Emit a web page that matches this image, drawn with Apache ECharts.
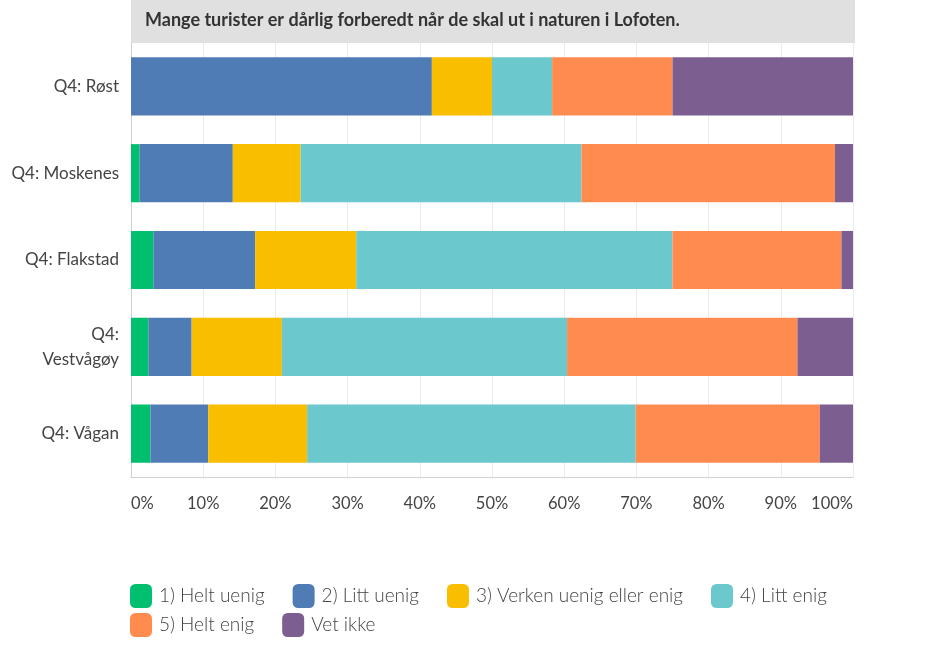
<!DOCTYPE html>
<html>
<head>
<meta charset="utf-8">
<script src="https://cdn.jsdelivr.net/npm/echarts@6/dist/echarts.min.js"></script>
<style>
  html, body { margin: 0; padding: 0; background: #fff; }
  #chart { width: 945px; height: 645px; }
</style>
</head>
<body>
<div id="chart"></div>
<script>
const title = 'Mange turister er dårlig forberedt når de skal ut i naturen i Lofoten.';
const categories = ['Q4: Røst', 'Q4: Moskenes', 'Q4: Flakstad', 'Q4: Vestvågøy', 'Q4: Vågan'];
const seriesNames = ['1) Helt uenig', '2) Litt uenig', '3) Verken uenig eller enig', '4) Litt enig', '5) Helt enig', 'Vet ikke'];
const heltUenig   = [0,     1.2,  3.1,  2.4,  2.7];
const littUenig   = [41.67, 12.9, 14.1, 6.0,  8.0];
const verken      = [8.33,  9.4,  14.0, 12.5, 13.7];
const littEnig    = [8.33,  38.9, 43.8, 39.5, 45.5];
const heltEnig    = [16.67, 35.1, 23.4, 31.9, 25.5];
const vetIkke     = [25.0,  2.5,  1.6,  7.7,  4.6];
const seriesValues = [heltUenig, littUenig, verken, littEnig, heltEnig, vetIkke];
const colors = ['#00bf6f', '#507cb6', '#f9be00', '#6bc8cd', '#ff8b4f', '#7d5e90'];

const chart = echarts.init(document.getElementById('chart'), null, { renderer: 'canvas' });
const font = 'Lato, "Open Sans", sans-serif';

const legendBase = {
  itemWidth: 22, itemHeight: 24, itemGap: 28, padding: 0,
  icon: 'roundRect',
  textStyle: { fontSize: 19, color: '#444', fontFamily: font, fontWeight: 300, padding: [0, 0, 0, 2] }
};

chart.setOption({
  animation: false,
  color: colors,
  graphic: [
    { type: 'rect', shape: { x: 131, y: 0, width: 724, height: 43 }, style: { fill: '#e0e0e0' }, z: 0 },
    { type: 'text', x: 145, y: 20, style: { text: title, font: 'bold 18px ' + font, fill: '#333', textVerticalAlign: 'middle' }, z: 1 }
  ],
  grid: { left: 131, right: 92, top: 43, bottom: 168, containLabel: false },
  legend: [
    Object.assign({ left: 130, top: 584, data: seriesNames.slice(0, 4) }, legendBase),
    Object.assign({ left: 130, top: 613, data: seriesNames.slice(4) }, legendBase)
  ],
  xAxis: {
    type: 'value', min: 0, max: 100, interval: 10,
    axisLine: { show: true, lineStyle: { color: '#d0d0d0' } },
    axisTick: { show: false },
    splitLine: { show: true, lineStyle: { color: '#ebebeb' } },
    axisLabel: {
      formatter: '{value}%', margin: 18, fontSize: 16.5, color: '#444', fontFamily: font,
      alignMinLabel: 'left', alignMaxLabel: 'right'
    }
  },
  yAxis: {
    type: 'category', inverse: true, data: categories,
    axisLine: { show: true, lineStyle: { color: '#d0d0d0' } },
    axisTick: { show: false },
    axisLabel: {
      margin: 12, fontSize: 17, color: '#444', fontFamily: font, lineHeight: 25,
      formatter: v => v.length > 12 ? v.replace(': ', ':\n') : v
    }
  },
  series: seriesNames.map((name, i) => ({
    name, type: 'bar', stack: 'total', barCategoryGap: '33%',
    data: seriesValues[i]
  }))
});
</script>
</body>
</html>
